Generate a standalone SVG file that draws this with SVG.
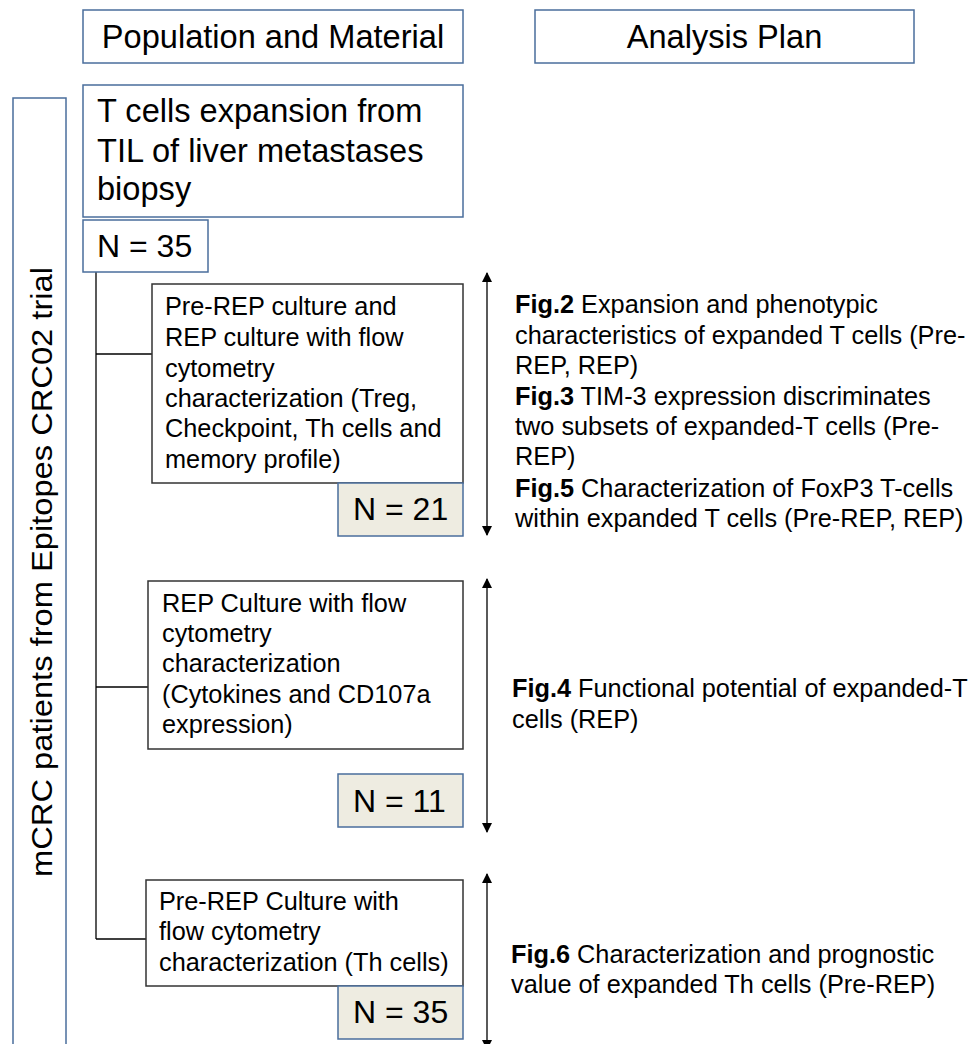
<svg xmlns="http://www.w3.org/2000/svg" width="971" height="1044" viewBox="0 0 971 1044">
<style>
text{font-family:"Liberation Sans",Arial,sans-serif;fill:#000}
.hb{fill:#fff;stroke:#4a6e9c;stroke-width:1.5}
.bb{fill:#fff;stroke:#333;stroke-width:1.5}
.nb{fill:#eeece1;stroke:#4a6e9c;stroke-width:1.5}
.big{font-size:32px}
.hd{font-size:32.6px}
.med{font-size:25.3px}
.con{stroke:#000;stroke-width:1.3;fill:none}
.arr{stroke:#000;stroke-width:1.3;fill:none;marker-start:url(#ah);marker-end:url(#ah)}
</style>
<defs>
<marker id="ah" viewBox="0 0 10 10" refX="9" refY="5" markerWidth="10" markerHeight="10" markerUnits="userSpaceOnUse" orient="auto-start-reverse">
<path d="M0,0 L10,5 L0,10 z" fill="#000"/>
</marker>
</defs>
<rect width="971" height="1044" fill="#fff"/>

<g id="header-population">
<rect class="hb" x="83" y="10" width="380" height="53"/>
<text class="hd" x="273" y="48" text-anchor="middle">Population and Material</text>
</g>
<g id="header-analysis">
<rect class="hb" x="535" y="10" width="379" height="53"/>
<text class="hd" x="724.5" y="48" text-anchor="middle">Analysis Plan</text>
</g>

<g id="side-label">
<rect class="hb" x="13" y="98" width="53" height="970"/>
<text transform="translate(52,572) rotate(-90)" x="0" y="0" text-anchor="middle" font-size="29" textLength="610" lengthAdjust="spacingAndGlyphs">mCRC patients from Epitopes CRC02 trial</text>
</g>

<g id="connectors">
<line class="con" x1="96" y1="272" x2="96" y2="939"/>
<line class="con" x1="96" y1="354" x2="152" y2="354"/>
<line class="con" x1="96" y1="687" x2="148" y2="687"/>
<line class="con" x1="96" y1="939" x2="146" y2="939"/>
<line class="arr" x1="487" y1="273" x2="487" y2="535"/>
<line class="arr" x1="487" y1="579" x2="487" y2="832"/>
<line class="arr" x1="487" y1="874" x2="487" y2="1049"/>
</g>

<g id="tcells">
<rect class="hb" x="83" y="85" width="380" height="132"/>
<text class="hd" x="97" y="122">T cells expansion from</text>
<text class="hd" x="97" y="161.5">TIL of liver metastases</text>
<text class="hd" x="97" y="200">biopsy</text>
</g>
<g id="n35-top">
<rect class="hb" x="83" y="220" width="125" height="52"/>
<text class="big" x="97" y="257">N = 35</text>
</g>

<g id="box1">
<rect class="bb" x="152" y="284" width="311" height="199"/>
<text class="med" x="165" y="315">Pre-REP culture and</text>
<text class="med" x="165" y="346">REP culture with flow</text>
<text class="med" x="165" y="377">cytometry</text>
<text class="med" x="165" y="407">characterization (Treg,</text>
<text class="med" x="165" y="437">Checkpoint, Th cells and</text>
<text class="med" x="165" y="468">memory profile)</text>
</g>
<g id="n21">
<rect class="nb" x="338" y="483" width="125" height="53"/>
<text class="big" x="353" y="520">N = 21</text>
</g>

<g id="box2">
<rect class="bb" x="148" y="581" width="315" height="168"/>
<text class="med" x="162" y="612">REP Culture with flow</text>
<text class="med" x="162" y="642">cytometry</text>
<text class="med" x="162" y="672">characterization</text>
<text class="med" x="162" y="703">(Cytokines and CD107a</text>
<text class="med" x="162" y="733">expression)</text>
</g>
<g id="n11">
<rect class="nb" x="338" y="774" width="125" height="53"/>
<text class="big" x="353" y="812">N = 11</text>
</g>

<g id="box3">
<rect class="bb" x="146" y="880" width="317" height="106"/>
<text class="med" x="159" y="910">Pre-REP Culture with</text>
<text class="med" x="159" y="940">flow cytometry</text>
<text class="med" x="159" y="971">characterization (Th cells)</text>
</g>
<g id="n35-bottom">
<rect class="nb" x="338" y="986" width="125" height="53"/>
<text class="big" x="353" y="1023">N = 35</text>
</g>

<g id="plan1">
<text class="med" x="515" y="313"><tspan font-weight="bold">Fig.2</tspan> Expansion and phenotypic</text>
<text class="med" x="515" y="344">characteristics of expanded T cells (Pre-</text>
<text class="med" x="515" y="374">REP, REP)</text>
<text class="med" x="515" y="405"><tspan font-weight="bold">Fig.3</tspan> TIM-3 expression discriminates</text>
<text class="med" x="515" y="435">two subsets of expanded-T cells (Pre-</text>
<text class="med" x="515" y="465">REP)</text>
<text class="med" x="515" y="497"><tspan font-weight="bold">Fig.5</tspan> Characterization of FoxP3 T-cells</text>
<text class="med" x="515" y="527">within expanded T cells (Pre-REP, REP)</text>
</g>
<g id="plan2">
<text class="med" x="512" y="697"><tspan font-weight="bold">Fig.4</tspan> Functional potential of expanded-T</text>
<text class="med" x="512" y="728">cells (REP)</text>
</g>
<g id="plan3">
<text class="med" x="511" y="963"><tspan font-weight="bold">Fig.6</tspan> Characterization and prognostic</text>
<text class="med" x="511" y="993">value of expanded Th cells (Pre-REP)</text>
</g>
</svg>
